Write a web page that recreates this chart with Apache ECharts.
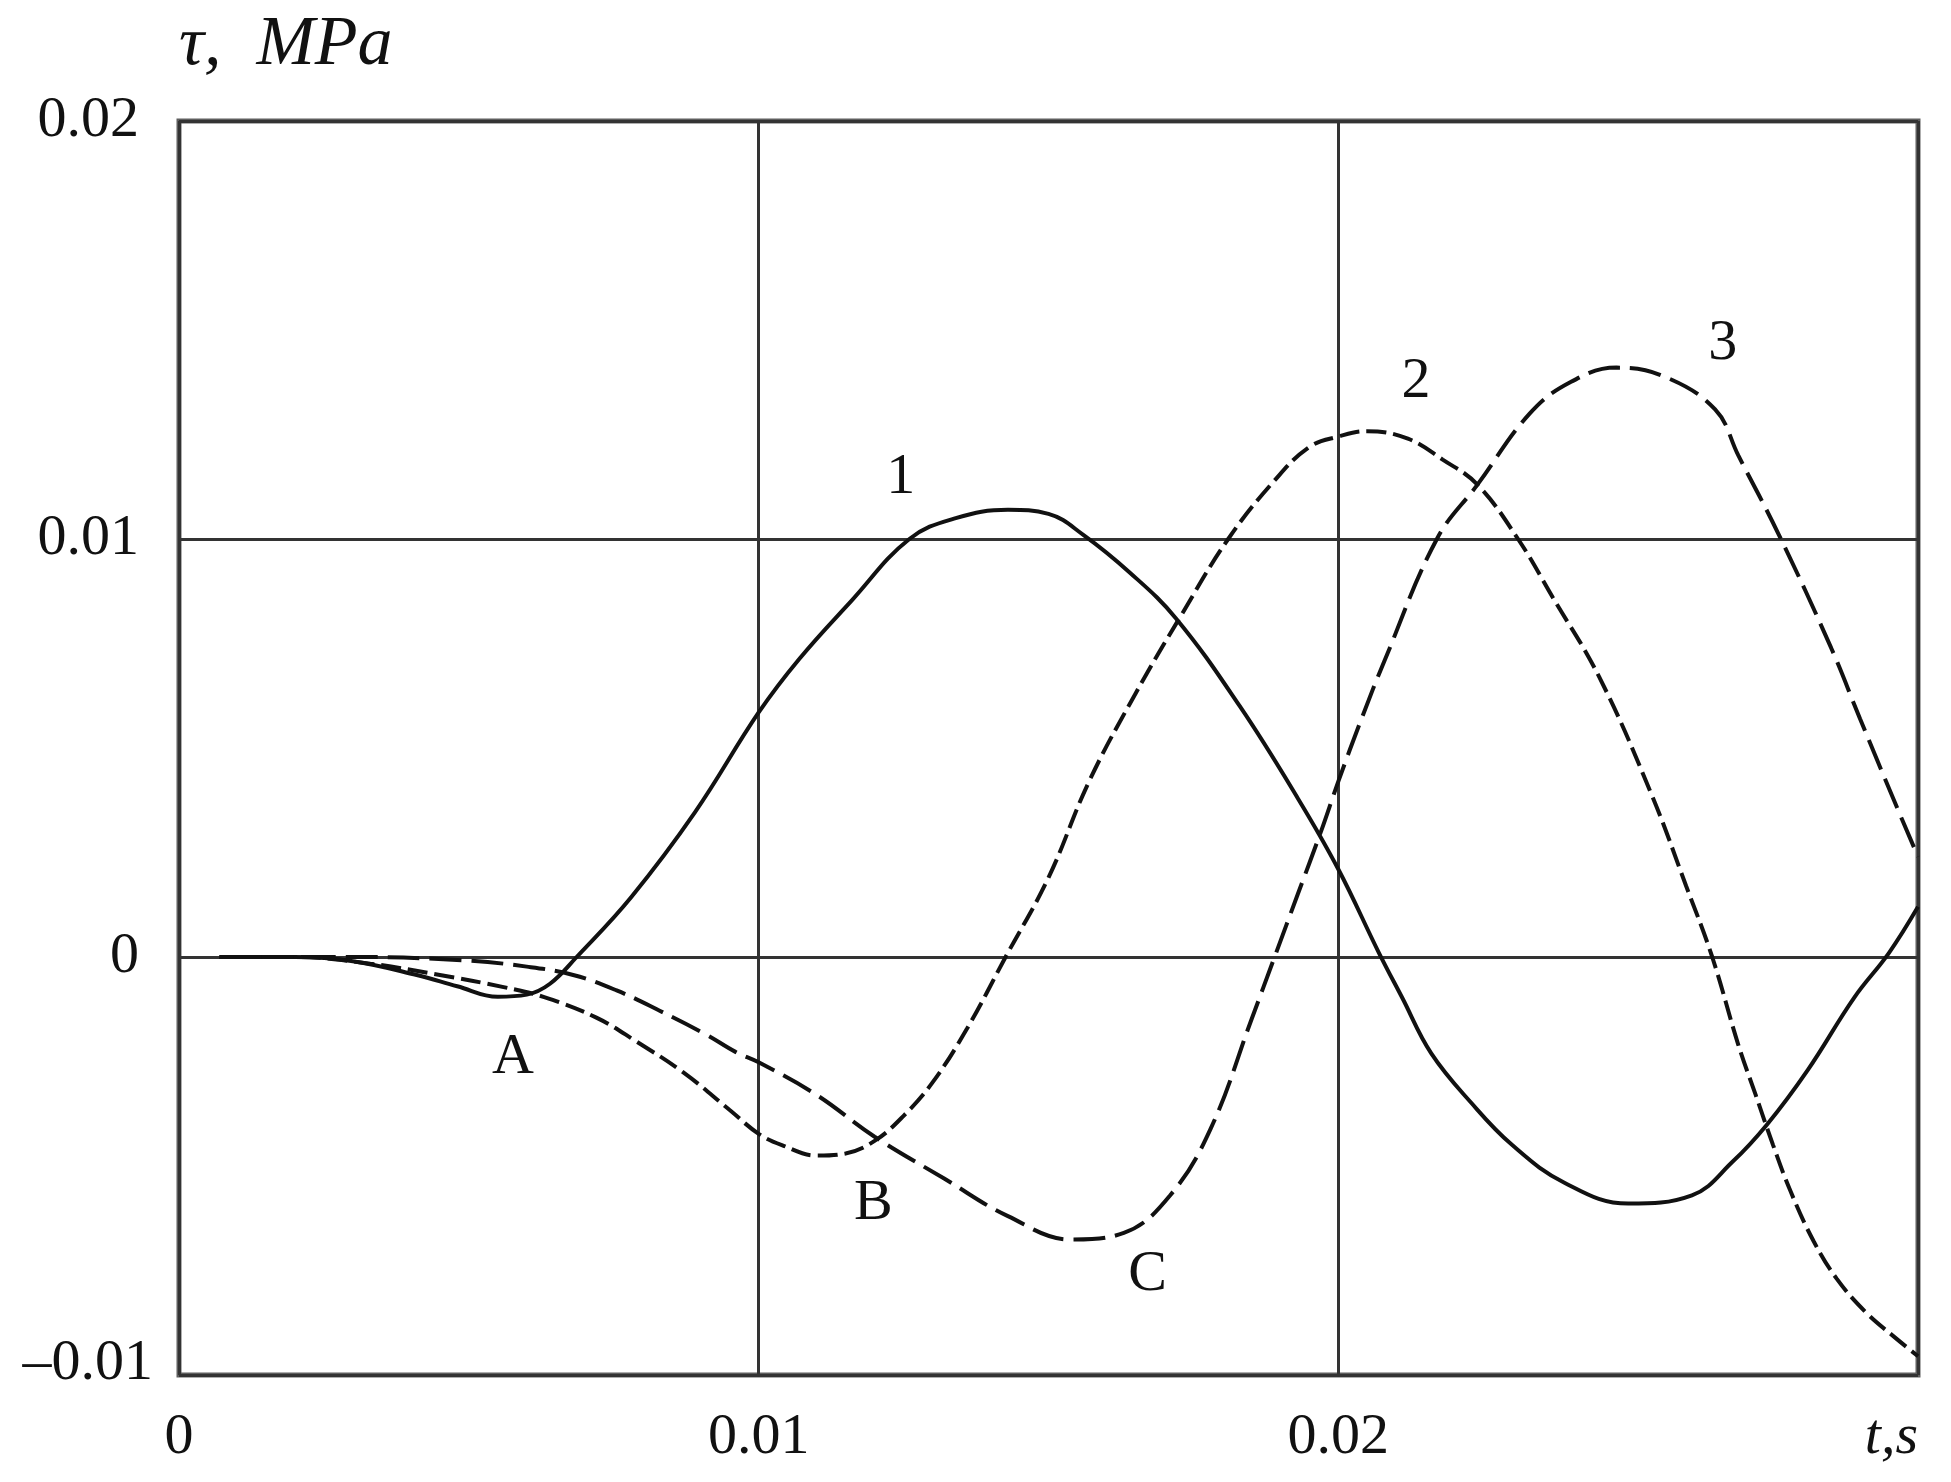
<!DOCTYPE html>
<html><head><meta charset="utf-8">
<script src="https://cdn.jsdelivr.net/npm/echarts@6/dist/echarts.min.js"></script>
<style>html,body{margin:0;padding:0;background:#fff}#c{width:1951px;height:1482px}</style>
</head><body><div id="c"></div>
<script>
// Curve 1 (solid)
const t1 = [0.0007, 0.002, 0.003, 0.0041, 0.0048, 0.0055, 0.006, 0.0064, 0.00686, 0.0078, 0.0089, 0.01, 0.0107, 0.0116, 0.0126, 0.0134, 0.0143, 0.0150, 0.0156, 0.0164, 0.0172, 0.0183, 0.0193, 0.0200, 0.0207, 0.0211, 0.0216, 0.0223, 0.0230, 0.0239, 0.0250, 0.0261, 0.0268, 0.0274, 0.0281, 0.0289, 0.0295, 0.0300];
const v1 = [0, 0, -0.0001, -0.00043, -0.0007, -0.00095, -0.0009, -0.00064, 0, 0.00143, 0.00346, 0.00585, 0.00713, 0.00852, 0.0100, 0.0105, 0.0107, 0.0106, 0.0101, 0.0092, 0.0081, 0.0060, 0.0038, 0.0021, 0.0001, -0.00097, -0.0023, -0.0035, -0.0045, -0.0054, -0.0059, -0.0057, -0.0049, -0.0040, -0.0027, -0.00097, 0.0001, 0.0012];
// Curve 2 (short dashes, through B)
const t2 = [0.0007, 0.002, 0.0033, 0.0045, 0.0056, 0.0063, 0.0072, 0.0079, 0.0087, 0.0095, 0.0100, 0.0104, 0.0110, 0.0115, 0.0120, 0.0125, 0.0130, 0.0136, 0.01426, 0.0150, 0.0157, 0.0165, 0.0173, 0.0181, 0.0189, 0.0195, 0.0200, 0.0205, 0.0212, 0.0218, 0.0224, 0.0231, 0.0237, 0.0245, 0.0254, 0.0260, 0.02645, 0.0269, 0.0272, 0.0275, 0.0278, 0.0282, 0.0286, 0.0291, 0.0296, 0.0300];
const v2 = [0, 0, -0.00016, -0.00043, -0.00072, -0.00096, -0.00145, -0.00203, -0.00276, -0.00366, -0.00423, -0.0045, -0.00475, -0.0047, -0.0044, -0.0038, -0.0030, -0.0017, 0, 0.0019, 0.0042, 0.0063, 0.0082, 0.0100, 0.0114, 0.0122, 0.01245, 0.01258, 0.0124, 0.0119, 0.0113, 0.0100, 0.0086, 0.0067, 0.0039, 0.0017, 0, -0.0021, -0.0033, -0.0045, -0.0056, -0.0068, -0.0077, -0.0085, -0.0091, -0.00955];
// Curve 3 (long dashes, through C)
const t3 = [0.0007, 0.003, 0.0049, 0.0060, 0.0068, 0.00755, 0.0083, 0.0091, 0.0096, 0.0100, 0.0110, 0.0120, 0.0132, 0.0143, 0.0154, 0.0163, 0.0171, 0.0178, 0.0185, 0.0189, 0.0193, 0.0197, 0.0200, 0.0204, 0.0208, 0.0217, 0.0224, 0.0233, 0.0240, 0.0248, 0.0256, 0.0265, 0.0269, 0.0276, 0.0285, 0.0290, 0.0296, 0.0300];
const v3 = [0, 0, -0.00008, -0.00023, -0.00043, -0.0008, -0.00129, -0.00186, -0.00227, -0.00252, -0.0033, -0.0043, -0.0053, -0.0062, -0.00676, -0.0066, -0.0057, -0.0041, -0.0015, 0, 0.0015, 0.0030, 0.0042, 0.0057, 0.0071, 0.0100, 0.0113, 0.0130, 0.01375, 0.0141, 0.0139, 0.0131, 0.0120, 0.0101, 0.0074, 0.0057, 0.0037, 0.0024];
// Annotation labels
const labelNames = ['1', '2', '3', 'A', 'B', 'C'];
const labelT = [0.01245, 0.02134, 0.02663, 0.00576, 0.01198, 0.01671];
const labelV = [0.01147, 0.01375, 0.01466, -0.0024, -0.0059, -0.0076];
// Tick labels
const xTickLabels = ['0', '0.01', '0.02', ''];
const yTickLabels = ['\u20130.01', '0', '0.01', '0.02'];
const xName = 't,s';
const yName = '\u03c4,  MPa';

const FONT = '"Liberation Serif", "DejaVu Serif", serif';
const pair = (t, v) => t.map((x, i) => [x, v[i]]);

const chart = echarts.init(document.getElementById('c'), null, {renderer: 'canvas'});
const lineBase = {type: 'line', showSymbol: false, smooth: 0.4, animation: false, z: 3};
const txt = {fontSize: 58, color: '#111', fontFamily: FONT};
chart.setOption({
  animation: false,
  backgroundColor: '#fff',
  grid: {left: 179, right: 33, top: 121, bottom: 107, show: true, borderColor: '#5e5e5e', borderWidth: 5, backgroundColor: 'transparent'},
  xAxis: {
    type: 'value', min: 0, max: 0.03, interval: 0.01,
    axisLine: {show: false, onZero: false}, axisTick: {show: false},
    splitLine: {show: true, lineStyle: {color: '#333', width: 3}},
    axisLabel: Object.assign({margin: 34, formatter: (v, i) => xTickLabels[i] ?? ''}, txt),
    name: xName, nameLocation: 'end', nameGap: 0,
    nameTextStyle: Object.assign({}, txt, {align: 'right', verticalAlign: 'top', padding: [34, 0, 0, 0], fontStyle: 'italic'})
  },
  yAxis: {
    type: 'value', min: -0.01, max: 0.02, interval: 0.01,
    axisLine: {show: false, onZero: false}, axisTick: {show: false},
    splitLine: {show: true, lineStyle: {color: '#333', width: 3}},
    axisLabel: Object.assign({margin: 8,
      formatter: (v, i) => (i === 0 ? '{m|' : '{n|') + (yTickLabels[i] ?? '') + '}',
      rich: {n: Object.assign({padding: [0, 32, 0, 0]}, txt), m: Object.assign({padding: [0, 18, 22, 0]}, txt)}
    }, txt),
    name: yName, nameLocation: 'end', nameGap: 40,
    nameTextStyle: Object.assign({}, txt, {align: 'left', verticalAlign: 'bottom', fontSize: 70, fontStyle: 'italic', padding: [0, 0, 0, 0]})
  },
  series: [
    Object.assign({}, lineBase, {name: '1', data: pair(t1, v1), lineStyle: {color: '#111', width: 4, type: 'solid'}}),
    Object.assign({}, lineBase, {name: '2', data: pair(t2, v2), lineStyle: {color: '#111', width: 4, type: [20, 7]}}),
    Object.assign({}, lineBase, {name: '3', data: pair(t3, v3), lineStyle: {color: '#111', width: 4, type: [32, 10]}}),
    {
      type: 'scatter', name: 'labels', symbolSize: 1, itemStyle: {color: 'rgba(0,0,0,0)', opacity: 1}, z: 5,
      data: labelNames.map((n, i) => ({name: n, value: [labelT[i], labelV[i]]})),
      label: Object.assign({show: true, position: 'inside', opacity: 1, formatter: p => p.name}, txt)
    }
  ]
});
</script></body></html>
